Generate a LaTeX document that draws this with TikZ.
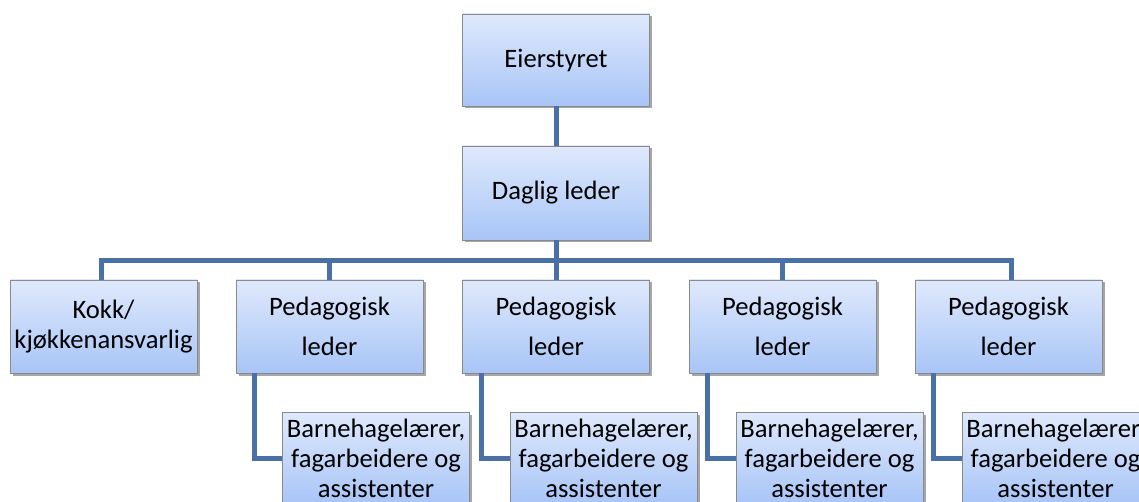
\documentclass[tikz,border=0pt]{standalone}
\usepackage{fontspec}
\setmainfont{Carlito}
\usetikzlibrary{shadows}
\definecolor{linec}{HTML}{4A70A8}
\definecolor{boxtop}{HTML}{DFE9FC}
\definecolor{boxbot}{HTML}{A8C5F7}
\definecolor{boxedge}{HTML}{8A8A8A}
\tikzset{
  orgbox/.style={draw=boxedge, line width=0.8pt, top color=boxtop, bottom color=boxbot,
    minimum width=187pt, minimum height=93pt, inner sep=0pt, align=center,
    font=\fontsize{26.6}{30}\selectfont,
    drop shadow={shadow xshift=2.5pt, shadow yshift=-2.5pt, opacity=0.35, fill=black}},
  pedbox/.style={orgbox, font=\fontsize{26.6}{40}\selectfont},
  conn/.style={draw=linec, line width=5pt, line cap=butt, line join=miter}
}
\begin{document}
\begin{tikzpicture}[x=1pt,y=-1pt]
\useasboundingbox (0,0) rectangle (1139,502);
\clip (0,0) rectangle (1139,502);
\fill[white] (0,0) rectangle (1139,502);
\coordinate (bus) at (556,260.5);
\node[orgbox, minimum height=92pt] (e) at (556,60) {Eierstyret};
\node[orgbox, minimum height=94pt] (d) at (556,193) {Daglig leder};
\node[orgbox] (k) at (103.5,326.5) {Kokk/\\kjøkkenansvarlig};
\node[pedbox] (p1) at (329.5,326.5) {Pedagogisk\\leder};
\node[pedbox] (p2) at (556,326.5) {Pedagogisk\\leder};
\node[pedbox] (p3) at (782.5,326.5) {Pedagogisk\\leder};
\node[pedbox] (p4) at (1008.5,326.5) {Pedagogisk\\leder};
\node[orgbox, minimum height=92pt] (s1) at (376,458) {Barnehagelærer,\\fagarbeidere og\\assistenter};
\node[orgbox, minimum height=92pt] (s2) at (603.5,458) {Barnehagelærer,\\fagarbeidere og\\assistenter};
\node[orgbox, minimum height=92pt] (s3) at (829.5,458) {Barnehagelærer,\\fagarbeidere og\\assistenter};
\node[orgbox, minimum height=92pt] (s4) at (1055.5,458) {Barnehagelærer,\\fagarbeidere og\\assistenter};
\draw[conn] (e.south) -- (d.north);
\draw[conn] (d.south) -- (bus);
\draw[conn] ([xshift=-2.5pt]k.north) |- (bus);
\draw[conn] (p1.north) |- (bus);
\draw[conn] (p2.north) -- (bus);
\draw[conn] (p3.north) |- (bus);
\draw[conn] ([xshift=2.5pt]p4.north) |- (bus);
\draw[conn] ([xshift=19pt]p1.south west) |- (s1.west);
\draw[conn] ([xshift=19pt]p2.south west) |- (s2.west);
\draw[conn] ([xshift=19pt]p3.south west) |- (s3.west);
\draw[conn] ([xshift=19pt]p4.south west) |- (s4.west);
\end{tikzpicture}
\end{document}
